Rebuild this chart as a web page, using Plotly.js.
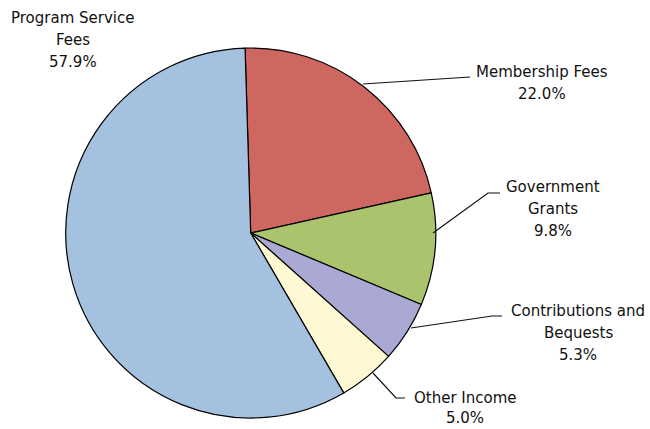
<!DOCTYPE html>
<html><head><meta charset="utf-8">
<script src="https://cdn.plot.ly/plotly-3.0.1.min.js"></script>
<style>html,body{margin:0;padding:0;background:#fff}#chart{width:650px;height:429px}</style>
</head><body><div id="chart"></div>
<script>
const categories = ["Membership Fees", "Government Grants", "Contributions and Bequests", "Other Income", "Program Service Fees"];
const labelLines = [["Membership Fees"], ["Government", "Grants"], ["Contributions and", "Bequests"], ["Other Income"], ["Program Service", "Fees"]];
const values = [22.0, 9.8, 5.3, 5.0, 57.9];
const colors = ["#CD6760", "#AAC46E", "#A9A9D3", "#FEF9D3", "#A4C1E0"];

const W = 650, H = 429;
const px = x => x / W, py = y => 1 - y / H;
const cx = 250.7, cy = 233, R = 185;

// centre x, first-line centre y and line gap of each label block, in pixels
const labelPos = [[542, 72, 22], [553, 187, 22], [578, 311, 22], [465, 398, 20], [73, 18, 22]];
const leaders = [
  [[363, 84], [470, 77]],
  [[433, 233], [488, 193], [500, 193]],
  [[411, 328], [492, 316], [502, 316]],
  [[373, 373], [396, 398], [405, 398]],
  null
];

const font = {family: "'DejaVu Sans', sans-serif", size: 15, color: "#111"};
const annotations = [];
categories.forEach((c, i) => {
  const lines = labelLines[i].concat([values[i].toFixed(1) + "%"]);
  lines.forEach((t, j) => annotations.push({
    xref: "paper", yref: "paper",
    x: px(labelPos[i][0]), y: py(labelPos[i][1] + j * labelPos[i][2]),
    xanchor: "center", yanchor: "middle", borderpad: 0,
    text: t, showarrow: false, font: font
  }));
});
const shapes = leaders.filter(l => l).map(l => ({
  type: "path", xref: "paper", yref: "paper",
  path: "M" + l.map(p => px(p[0]) + "," + py(p[1])).join(" L"),
  line: {color: "#111", width: 1.2}
}));

const trace = {
  type: "pie", labels: categories, values: values, sort: false,
  direction: "clockwise", rotation: -1.75,
  marker: {colors: colors, line: {color: "#000", width: 1.2}},
  textinfo: "none", hoverinfo: "label+percent",
  domain: {x: [px(cx - R), px(cx + R)], y: [py(cy + R), py(cy - R)]}
};
Plotly.newPlot("chart", [trace], {
  width: W, height: H, margin: {l: 0, r: 0, t: 0, b: 0},
  showlegend: false, paper_bgcolor: "#fff",
  annotations: annotations, shapes: shapes
}, {displayModeBar: false, staticPlot: true});
</script></body></html>
